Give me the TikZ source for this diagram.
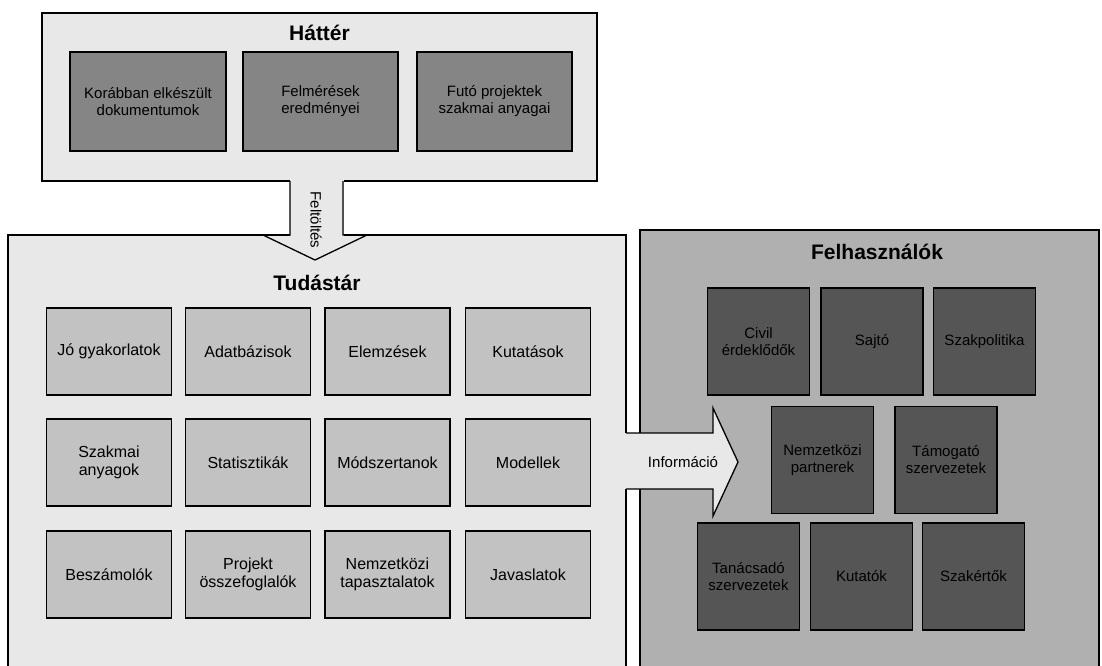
\documentclass[tikz,border=0pt]{standalone}
\usepackage{fontspec}
\setmainfont{Liberation Sans}
\definecolor{lightbg}{HTML}{E8E8E8}
\definecolor{tbox}{HTML}{C2C2C2}
\definecolor{fbg}{HTML}{B0B0B0}
\definecolor{hbox}{HTML}{858585}
\definecolor{fbox}{HTML}{555555}
\begin{document}
\begin{tikzpicture}[x=1pt,y=-1pt,
  frame/.style={draw=black, line width=1.3pt, rectangle, inner sep=0pt},
  ibox/.style={draw=black, line width=1.3pt, rectangle, inner sep=1pt, align=center,
    font=\fontsize{15}{17}\selectfont},
  tbx/.style={ibox, fill=tbox, minimum width=125pt, minimum height=87pt,
    font=\fontsize{16}{18}\selectfont},
  hbx/.style={ibox, fill=hbox, minimum width=155pt, minimum height=99pt},
  fbx/.style={ibox, fill=fbox, minimum width=102pt, minimum height=107pt},
  ttl/.style={font=\fontsize{21}{24}\selectfont\bfseries, inner sep=0pt},
  lbl/.style={font=\fontsize{15}{17}\selectfont, inner sep=0pt},
  edge/.style={draw=black, line width=1.3pt, line join=miter}]
\useasboundingbox (0,0) rectangle (1102,665);
\fill[white] (0,0) rectangle (1102,665);
\begin{scope}
\clip (0,0) rectangle (1102,665);
% frames
\node[frame, fill=lightbg, minimum width=555pt, minimum height=168pt] (hatter) at (319.5,97) {};
\node[frame, fill=lightbg, minimum width=618pt, minimum height=485pt] (tudastar) at (317,477.5) {};
\node[frame, fill=fbg, minimum width=459pt, minimum height=490pt] (felh) at (869.5,475) {};
% Feltöltés arrow
\coordinate (fa1) at (290,181);
\coordinate (fa2) at (290,235);
\coordinate (fa3) at (263,235);
\coordinate (fatip) at (315,260);
\coordinate (fa5) at (367,235);
\coordinate (fa6) at (343,235);
\coordinate (fa7) at (343,181);
\fill[lightbg] (289.5,176) rectangle (343.5,240);
\draw[edge] (fa1) -- (fa2) -- (fa3) -- (fatip) -- (fa5) -- (fa6) -- (fa7);
\node[lbl, rotate=-90] (feltoltes) at (316,220) {Feltöltés};
% Információ arrow
\coordinate (ia1) at (626,433);
\coordinate (ia2) at (713,433);
\coordinate (ia3) at (713,408);
\coordinate (iatip) at (738,462);
\coordinate (ia5) at (713,516);
\coordinate (ia6) at (713,489);
\coordinate (ia7) at (626,489);
\fill[lightbg] (622,433) rectangle (714,489);
\fill[lightbg] (ia3) -- (iatip) -- (ia5) -- cycle;
\draw[edge] (ia1) -- (ia2) -- (ia3) -- (iatip) -- (ia5) -- (ia6) -- (ia7);
\node[lbl] (info) at (683,462) {Információ};
\end{scope}
% titles
\node[ttl] (thatter) at (319.5,33) {Háttér};
\node[ttl] (ttudastar) at (317,283) {Tudástár};
\node[ttl] (tfelh) at (877,252) {Felhasználók};
% Háttér boxes
\node[hbx, minimum width=156pt] (h1) at (148,101.5) {Korábban elkészült\\dokumentumok};
\node[hbx] (h2) at (320.5,101.5) {Felmérések\\eredményei};
\node[hbx] (h3) at (494.5,101.5) {Futó projektek\\szakmai anyagai};
% Tudástár boxes
\node[tbx] (t11) at (109,351.5) {Jó gyakorlatok};
\node[tbx] (t12) at (248,351.5) {Adatbázisok};
\node[tbx] (t13) at (387.5,351.5) {Elemzések};
\node[tbx] (t14) at (528,351.5) {Kutatások};
\node[tbx] (t21) at (109,462.5) {Szakmai\\anyagok};
\node[tbx] (t22) at (248,462.5) {Statisztikák};
\node[tbx] (t23) at (387.5,462.5) {Módszertanok};
\node[tbx] (t24) at (528,462.5) {Modellek};
\node[tbx] (t31) at (109,574.5) {Beszámolók};
\node[tbx] (t32) at (248,574.5) {Projekt\\összefoglalók};
\node[tbx] (t33) at (387.5,574.5) {Nemzetközi\\tapasztalatok};
\node[tbx] (t34) at (528,574.5) {Javaslatok};
% Felhasználók boxes
\node[fbx] (f11) at (758.5,341.5) {Civil\\érdeklődők};
\node[fbx] (f12) at (872,341.5) {Sajtó};
\node[fbx] (f13) at (984.5,341.5) {Szakpolitika};
\node[fbx] (f21) at (822.5,460) {Nemzetközi\\partnerek};
\node[fbx] (f22) at (946,460) {Támogató\\szervezetek};
\node[fbx] (f31) at (748.5,576.5) {Tanácsadó\\szervezetek};
\node[fbx] (f32) at (861.5,576.5) {Kutatók};
\node[fbx] (f33) at (973.5,576.5) {Szakértők};
\end{tikzpicture}
\end{document}
